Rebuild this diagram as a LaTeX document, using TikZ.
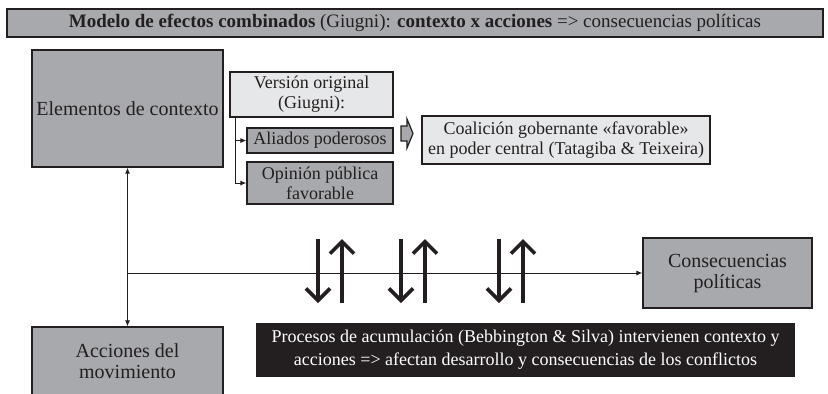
\documentclass[tikz,border=0pt]{standalone}
\usepackage{fontspec}
\setmainfont{Liberation Serif}
\usetikzlibrary{arrows.meta}
\definecolor{boxgray}{RGB}{167,169,172}
\definecolor{boxlight}{RGB}{230,231,232}
\definecolor{ink}{RGB}{35,31,32}
\tikzset{
	box/.style={draw=ink, line width=0.7pt, fill=boxgray, text=ink, align=center, inner sep=0pt, font=\fontsize{10}{10.5}\selectfont},
	smallbox/.style={box, font=\fontsize{9}{10}\selectfont},
	lightbox/.style={smallbox, fill=boxlight},
	link/.style={draw=ink, line width=0.5pt, -{Latex[length=3pt,width=2.6pt]}},
	bigarrow/.style={draw=ink, line width=1.8pt, -{Straight Barb[length=6pt,width=12pt]}}
}

\begin{document}
\begin{tikzpicture}[x=0.5pt,y=-0.5pt]
	\useasboundingbox (0,0) rectangle (828,393);
	\node[box, minimum width=408pt, minimum height=14pt, font=\fontsize{9.5}{10}\selectfont] (title) at (415,23)
		{\textbf{Modelo de efectos combinados} (Giugni): \textbf{contexto x acciones} => consecuencias políticas};
	\node[box, minimum width=95.5pt, minimum height=58.5pt] (elem) at (127.5,108.5) {Elementos de contexto};
	\node[box, minimum width=95.5pt, minimum height=34pt] (acc) at (127.5,361) {Acciones del\\movimiento};
	\node[lightbox, minimum width=81.5pt, minimum height=22.5pt] (vorig) at (311.5,94.5) {Versión original\\(Giugni):};
	\node[smallbox, minimum width=73pt, minimum height=12.5pt] (aliados) at (320,140.5) {Aliados poderosos};
	\node[smallbox, minimum width=73pt, minimum height=21pt] (opinion) at (320,183) {Opinión pública\\favorable};
	\node[lightbox, minimum width=144pt, minimum height=24pt] (coal) at (566,140) {Coalición gobernante «favorable»\\en poder central (Tatagiba \& Teixeira)};
	\node[box, minimum width=84.5pt, minimum height=35pt] (cons) at (727.5,273) {Consecuencias\\políticas};
	\node[box, fill=ink, text=white, minimum width=268.5pt, minimum height=26pt, font=\fontsize{9}{11.5}\selectfont] (accum) at (525.5,350)
		{Procesos de acumulación (Bebbington \& Silva) intervienen contexto y\\acciones => afectan desarrollo y consecuencias de los conflictos};
	\coordinate (hub) at (127.5,273);
	\draw[link] (hub) -- (elem.south);
	\draw[link] (hub) -- (acc.north);
	\draw[link] (hub) -- (cons.west);
	\draw[link] ([xshift=3pt]vorig.south west) |- (aliados.west);
	\draw[link] ([xshift=3pt]vorig.south west) |- (opinion.west);
	\draw[draw=ink, line width=0.6pt, fill=boxgray] (401,126) -- (407,126) -- (407,119) -- (413,133.5) -- (407,148) -- (407,141) -- (401,141) -- cycle;
	\foreach \x in {318,401,499}{
		\draw[bigarrow] (\x,239) -- (\x,303);
		\draw[bigarrow] (\x+24,303) -- (\x+24,239);
	}
\end{tikzpicture}
\end{document}
